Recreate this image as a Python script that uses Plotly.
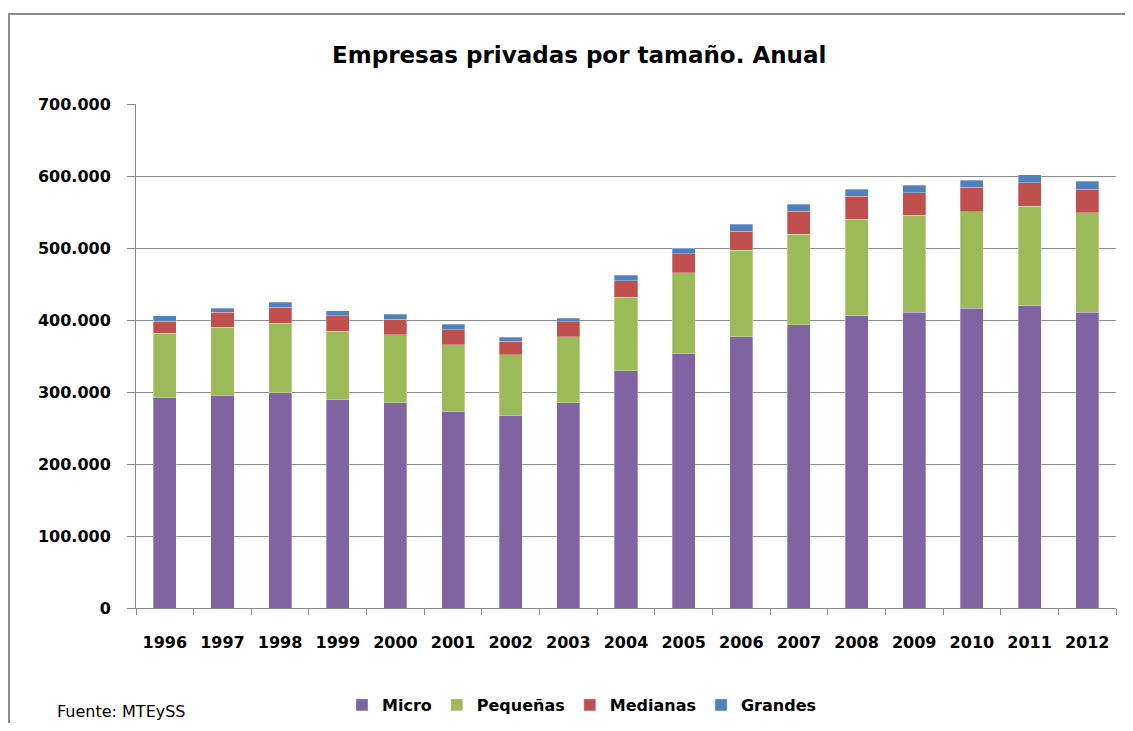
import plotly.graph_objects as go

years = [str(y) for y in range(1996, 2013)]
micro = [292600, 295800, 299000, 288900, 285100, 273200, 268000, 285200, 329200,
         353700, 376400, 393500, 406000, 411100, 416200, 419900, 411100]
pequenas = [88900, 94100, 96400, 95800, 94500, 92500, 83400, 91200, 102700,
            111600, 120400, 125900, 133800, 134300, 134200, 138000, 137900]
medianas = [17100, 21200, 22600, 21300, 21400, 20900, 19400, 21300, 22700,
            26400, 26800, 31500, 32000, 31400, 33900, 32800, 32900]
grandes = [7400, 5100, 7000, 7000, 6900, 7400, 5200, 4700, 7400,
           8300, 9300, 10200, 10100, 10700, 10100, 10700, 10700]
y_ticks = [0, 100000, 200000, 300000, 400000, 500000, 600000, 700000]
y_tick_labels = ["0", "100.000", "200.000", "300.000", "400.000", "500.000", "600.000", "700.000"]

series = [("Micro", micro, "#8064A2"), ("Pequeñas", pequenas, "#9BBB59"),
          ("Medianas", medianas, "#C0504D"), ("Grandes", grandes, "#4F81BD")]

FONT = "DejaVu Sans"
OFF = 8  # default body margin of the html page
W, H = 1133 - 2 * OFF, 731 - 2 * OFF
ML, MT = 136 - OFF, 104 - OFF
MR = W - (1116 - OFF)
MB = H - (608 - OFF)
PW, PH = W - ML - MR, H - MT - MB

def px(x):
    return (x - OFF - ML) / PW

def py(y):
    return (H - MB - (y - OFF)) / PH

fig = go.Figure()
for name, vals, color in series:
    fig.add_trace(go.Bar(x=years, y=vals, name=name,
                         marker=dict(color=color, line=dict(color="rgba(255,255,255,0.6)", width=0.5))))

fig.update_layout(
    width=W, height=H,
    barmode="stack", bargap=0.6,
    margin=dict(l=ML, r=MR, t=MT, b=MB, autoexpand=False),
    paper_bgcolor="white", plot_bgcolor="white",
    font=dict(family=FONT, color="black"),
    showlegend=True,
    legend=dict(orientation="h", x=px(582), xanchor="center", y=py(705), yanchor="middle",
                font=dict(size=16, family=FONT, color="black", weight="bold"),
                itemwidth=30, traceorder="normal", bgcolor="rgba(0,0,0,0)"),
    xaxis=dict(type="category", showgrid=False, showline=True, linecolor="#888888", linewidth=1,
               ticks="outside", tickson="boundaries", ticklen=6, tickcolor="#888888",
               tickfont=dict(size=16, family=FONT, color="black", weight="bold"),
               ticklabelstandoff=20, automargin=False),
    yaxis=dict(range=[0, 700000], tickvals=y_ticks, ticktext=y_tick_labels,
               showgrid=True, gridcolor="#8c8c8c", gridwidth=1,
               showline=True, linecolor="#888888", linewidth=1,
               ticks="outside", ticklen=8, tickcolor="#888888",
               tickfont=dict(size=16, family=FONT, color="black", weight="bold"),
               ticklabelstandoff=13, zeroline=False, automargin=False),
)

fig.add_shape(type="rect", xref="paper", yref="paper",
              x0=px(9), x1=px(1200), y0=py(800), y1=py(14),
              line=dict(color="#8a8a8a", width=2), fillcolor="rgba(0,0,0,0)", layer="below")

fig.add_annotation(text="<b>Empresas privadas por tamaño. Anual</b>", xref="paper", yref="paper",
                   x=px(579), y=py(55), xanchor="center", yanchor="middle", showarrow=False,
                   font=dict(size=23, family=FONT, color="black"))
fig.add_annotation(text="Fuente: MTEySS", xref="paper", yref="paper",
                   x=px(55), y=py(711), xanchor="left", yanchor="middle", showarrow=False,
                   font=dict(size=16, family=FONT, color="black"))

fig.write_html("out.html")
